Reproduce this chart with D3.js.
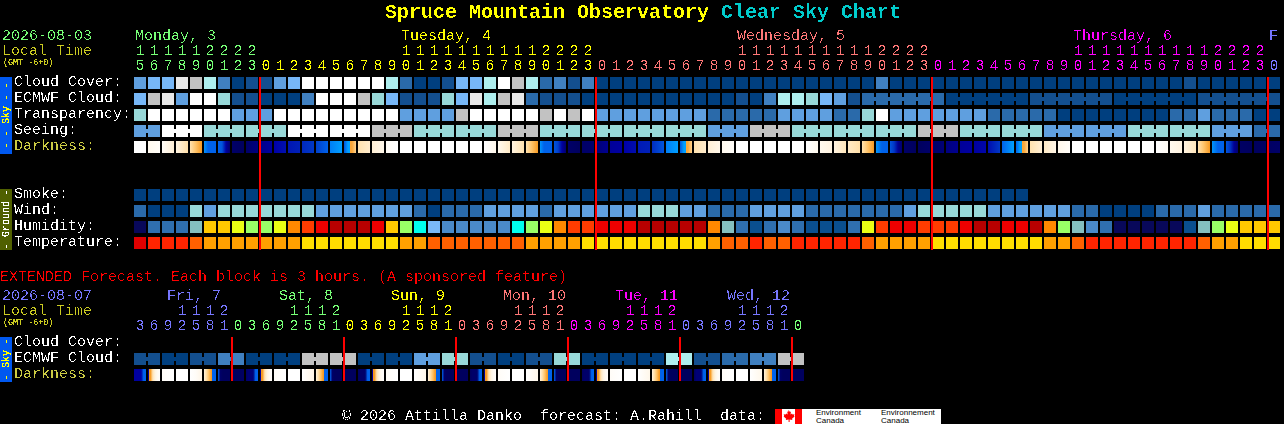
<!DOCTYPE html>
<html><head><meta charset="utf-8">
<style>
html,body{margin:0;padding:0;background:#000;overflow:hidden}
svg{display:block}
text{font-family:"Liberation Mono",monospace;font-size:15px;white-space:pre}
</style>
<script src="https://cdnjs.cloudflare.com/ajax/libs/d3/7.8.5/d3.min.js"></script>
</head><body><svg id="c" width="1284" height="424"></svg>
<script>
// ---------- DATA ----------
const hours=[15,16,17,18,19,20,21,22,23,0,1,2,3,4,5,6,7,8,9,10,11,12,13,14,15,16,17,18,19,20,21,22,23,0,1,2,3,4,5,6,7,8,9,10,11,12,13,14,15,16,17,18,19,20,21,22,23,0,1,2,3,4,5,6,7,8,9,10,11,12,13,14,15,16,17,18,19,20,21,22,23,0];
const hourDayIdx=[0,0,0,0,0,0,0,0,0,1,1,1,1,1,1,1,1,1,1,1,1,1,1,1,1,1,1,1,1,1,1,1,1,2,2,2,2,2,2,2,2,2,2,2,2,2,2,2,2,2,2,2,2,2,2,2,2,3,3,3,3,3,3,3,3,3,3,3,3,3,3,3,3,3,3,3,3,3,3,3,3,4];
const dayLabels=["Monday, 3","Tuesday, 4","Wednesday, 5","Thursday, 6","F"];
const dayStartCols=[0,19,43,67,81];
const dayColors=["#77ff77","#ffff00","#ff7777","#ff00ff","#7777ff"];
const midnightCols=[9,33,57,81];

const rowsSky=["Cloud Cover:","ECMWF Cloud:","Transparency:","Seeing:","Darkness:"];
const rowsGround=["Smoke:","Wind:","Humidity:","Temperature:"];
const rowsExt=["Cloud Cover:","ECMWF Cloud:","Darkness:"];

const cloudCover=[4,5,5,9,8,7,3,0,1,1,4,5,10,10,10,10,10,10,7,2,0,0,1,5,5,7,10,8,7,2,3,1,3,0,0,0,0,0,0,0,0,0,0,0,0,0,0,0,0,0,0,0,0,3,0,0,0,0,0,0,0,0,0,0,0,0,0,0,0,0,0,0,0,0,0,1,0,0,0,0,0,0];
const ecmwfCloud=[5,8,9,4,10,10,6,1,1,0,0,0,3,10,10,10,8,6,5,1,1,1,6,5,9,7,8,9,2,1,1,1,0,0,0,0,0,0,0,0,0,0,0,1,0,3,7,7,6,5,4,1,2,2,2,2,2,2,0,0,0,0,0,0,1,1,1,1,1,1,0,0,0,0,0,0,1,1,1,1,1,1];
const transparency=[6,10,10,10,10,10,10,4,4,4,10,10,10,10,10,10,10,10,10,4,4,4,4,8,10,10,10,10,10,8,10,8,10,4,4,4,4,4,4,4,4,2,2,2,2,2,4,4,4,4,2,2,6,10,4,4,4,4,4,4,4,2,2,2,2,2,0,0,0,0,0,0,0,0,2,2,4,2,2,2,0,0];
const seeing=[4,4,10,10,10,6,6,6,6,6,6,10,10,10,10,10,10,8,8,8,6,6,6,6,6,6,8,8,8,6,6,6,6,6,6,6,6,6,6,6,6,4,4,4,8,8,8,6,6,6,6,6,6,6,6,6,8,8,8,6,6,6,6,6,6,4,4,4,4,4,4,6,6,6,6,6,6,4,4,4,2,2];
const darkness=[[100,100],[92,97],[96,82],[86,70],[72,60,51],[49,44,44,44],[44,42,18,6],[5,3],[5,10],[12,18],[20,25],[27,30],[32,36],[38,44],[47,50],[42,50,54,66],[72,80],[82,90],[95,100],[100,100],[100,100],[100,100],[100,100],[100,100],[100,100],[100,90],[92,78],[85,72],[72,60,51],[49,44,44,44],[42,38,18,6],[5,3],[5,6],[8,14],[16,18],[20,24],[28,30],[33,42],[47,50],[42,50,54,66],[72,80],[82,90],[92,97],[100,100],[100,100],[100,100],[100,100],[100,100],[100,92],[92,85],[85,75],[78,70],[72,60,51],[49,44,44],[42,36,15,6],[5,3],[3,5],[5,8],[10,14],[16,18],[18,22],[24,36],[44,50],[44,50,54,66],[72,82],[78,88],[90,97],[100,100],[100,100],[100,100],[100,100],[100,100],[100,100],[100,95],[92,85],[85,75],[72,60,51],[49,44,44],[42,36,15,6],[4,3],[3,4],[4,5]];

const smoke=[0,0,0,0,0,0,0,0,0,0,0,0,0,0,0,0,0,0,0,0,0,0,0,0,0,0,0,0,0,0,0,0,0,0,0,0,0,0,0,0,0,0,0,0,0,0,0,0,0,0,0,0,0,0,0,0,0,0,0,0,0,0,0,0];
const wind=[2,0,0,0,6,4,6,6,6,6,6,6,6,4,4,4,4,4,4,4,2,0,2,2,2,4,4,4,4,2,4,4,4,4,4,4,6,6,6,4,4,2,2,2,4,4,4,4,2,2,2,2,2,2,2,4,6,6,6,6,6,4,4,4,4,4,4,2,2,0,0,0,0,2,2,2,4,2,2,2,2,2];
const humidity=[0,2,2,2,5,9,9,8,7,7,8,10,11,12,13,13,13,12,9,7,6,4,3,3,3,3,3,6,7,8,10,11,11,12,12,12,13,13,13,13,13,10,5,2,1,2,3,2,1,1,1,2,8,11,12,12,11,11,11,12,13,13,12,12,13,10,7,5,3,2,0,0,0,0,0,1,5,7,8,9,9,9];
const temperature=[0,1,1,1,2,3,3,3,3,3,3,3,4,4,4,4,4,4,4,3,3,2,2,2,2,2,2,2,3,3,3,3,4,4,4,4,4,4,4,4,4,3,2,2,1,2,2,1,1,1,1,1,2,3,3,3,3,4,4,4,4,4,4,4,4,3,3,2,1,1,1,1,1,1,1,1,2,3,3,4,4,4];

// Extended forecast
const extHours=[3,6,9,12,15,18,21,0,3,6,9,12,15,18,21,0,3,6,9,12,15,18,21,0,3,6,9,12,15,18,21,0,3,6,9,12,15,18,21,0,3,6,9,12,15,18,21,0];
const extDayIdx=[0,0,0,0,0,0,0,1,1,1,1,1,1,1,1,2,2,2,2,2,2,2,2,3,3,3,3,3,3,3,3,4,4,4,4,4,4,4,4,5,5,5,5,5,5,5,5,1];
const extDayLabels=["Fri, 7","Sat, 8","Sun, 9","Mon, 10","Tue, 11","Wed, 12"];
const extDayStartCols=[2,10,18,26,34,42];
const extDayColors=["#7777ff","#77ff77","#ffff00","#ff7777","#ff00ff","#7777ff"];
const extMidnightCols=[7,15,23,31,39,47];
const extEcmwf=[1,1,0,0,1,1,3,3,0,0,0,0,8,8,8,8,0,0,0,0,4,4,6,6,1,1,0,0,1,1,6,6,0,0,0,0,0,0,7,7,1,1,2,2,3,3,8,8];
const extDarkness=[[18,18,18,18,44,44],[16,51,74,86,94,98],[96,100],[100,100],[100,96,88],[84,70,60,51,44,44],[44,5,3,3,3,3],[3,4],[5,8,8,8,44,44],[16,51,74,86,94,98],[96,100],[100,100],[100,88],[84,70,60,51,44,44],[44,5,3,3,3,3],[3,3],[3,5,5,5,44,44],[16,51,74,86,94,98],[96,100],[100,100],[100,90],[84,70,60,51,44,44],[44,5,3,3,3,3],[3,3],[3,5,5,5,44,44],[16,51,74,86,94,98],[96,100],[100,100],[100,90],[84,70,60,51,44,44],[44,5,3,3,3,3],[3,3],[3,5,5,5,44,44],[16,51,74,86,94,98],[96,100],[100,100],[100,90],[84,70,60,51,44,44],[44,5,3,3,3,3],[3,3],[3,8,8,8,44,44],[16,51,74,86,94,98],[96,100],[100,100],[100,90],[84,70,60,51,44,44],[44,5,3,3,3,3],[3,3]];

// colour palettes
const skyPalette=["#003f7f","#134f8f","#2a6aaa","#4080c0","#5f9fdf","#77b7f7","#98d8d8","#aeeeee","#c2c2c2","#e8e8e8","#ffffff"];
const humidityPalette=["#08085a","#0a4f8f","#2f6faf","#4a8aca","#7ab8f8","#84bfbf","#00ffee","#99ff66","#eaff14","#ffc800","#ff8800","#ff3c00","#ee0000","#b80000"];
const temperaturePalette=["#e00000","#ff2400","#ff6000","#ffa000","#ffdd00"];
const darkDomain=[0,10,20,30,40,45,50,50.5,60,70,85,100];
const darkRange=["#000050","#00007f","#0000a8","#0020b8","#0048d0","#0068f0","#00a0ff","#f7981e","#ffc266","#ffdfa8","#fff3e0","#ffffff"];

// ---------- SCALES ----------
const svg=d3.select("#c");
const defs=svg.append("defs");
function pxFilter(id,table){
  defs.append("filter").attr("id",id).attr("filterUnits","userSpaceOnUse")
    .attr("x",0).attr("y",0).attr("width",1284).attr("height",424)
    .attr("color-interpolation-filters","sRGB")
    .append("feComponentTransfer").append("feFuncA").attr("type","discrete").attr("tableValues",table);
}
pxFilter("px","0 0 0 1 1");
pxFilter("pxs","0 0 1 1 1");

const x=d3.scaleBand().domain(d3.range(hours.length)).range([134,1280]).paddingInner(2/14);
const xe=d3.scaleBand().domain(d3.range(extHours.length)).range([134,804]).paddingInner(2/14);
const ySky=d3.scaleBand().domain(rowsSky).range([77,153]).paddingInner(.25);
const yGround=d3.scaleBand().domain(rowsGround).range([189,249]).paddingInner(.25);
const yExt=d3.scaleBand().domain(rowsExt).range([337,381]).paddingInner(.25);
const sky=d3.scaleOrdinal(d3.range(skyPalette.length),skyPalette);
const hum=d3.scaleOrdinal(d3.range(humidityPalette.length),humidityPalette);
const tmp=d3.scaleOrdinal(d3.range(temperaturePalette.length),temperaturePalette);
const dark=d3.scaleLinear().domain(darkDomain).range(darkRange).interpolate(d3.interpolateRgb);

const marks=svg.append("g").attr("shape-rendering","crispEdges");
const textG=svg.append("g").attr("filter","url(#px)");
const smallG=svg.append("g").attr("filter","url(#pxs)");

function row(vals,xs,y,color,block){
  const g=marks.append("g");
  g.selectAll("rect.c").data(vals).join("rect").attr("class","c")
    .attr("x",(d,i)=>xs(i)).attr("y",y).attr("width",xs.bandwidth()).attr("height",12)
    .attr("fill",d=>color(d));
  if(block){
    const links=d3.range(vals.length-1).filter(i=>block(i)!==null&&block(i)===block(i+1));
    g.selectAll("rect.l").data(links).join("rect").attr("class","l")
      .attr("x",i=>xs(i)+xs.bandwidth()).attr("y",y+4).attr("width",xs.step()-xs.bandwidth()).attr("height",4)
      .attr("fill",i=>color(vals[i]));
  }
}
function darkRow(vals,xs,y,pre){
  vals.forEach((s,i)=>{
    const gr=defs.append("linearGradient").attr("id",pre+i);
    s.forEach((v,k)=>{
      const off=k/(s.length-1);
      if(k>0&&(s[k-1]<=50)!==(v<=50)){
        const m=off-0.5/(s.length-1);
        gr.append("stop").attr("offset",m).attr("stop-color",dark(s[k-1]));
        gr.append("stop").attr("offset",m).attr("stop-color",dark(v));
      }
      gr.append("stop").attr("offset",off).attr("stop-color",dark(v));
    });
  });
  marks.append("g").selectAll("rect").data(vals).join("rect")
    .attr("x",(d,i)=>xs(i)).attr("y",y).attr("width",xs.bandwidth()).attr("height",12)
    .attr("fill",(d,i)=>`url(#${pre}${i})`);
}
const blockSeeing=i=>Math.floor((i+1)/3);
const blockEcmwf=i=>i<52?null:Math.floor((i-52)/6);
const blockExt=i=>Math.floor(i/2);

row(cloudCover,x,ySky("Cloud Cover:"),sky);
row(ecmwfCloud,x,ySky("ECMWF Cloud:"),sky,blockEcmwf);
row(transparency,x,ySky("Transparency:"),sky);
row(seeing,x,ySky("Seeing:"),sky,blockSeeing);
darkRow(darkness,x,ySky("Darkness:"),"d");
row(smoke,x,yGround("Smoke:"),sky);
row(wind,x,yGround("Wind:"),sky);
row(humidity,x,yGround("Humidity:"),hum);
row(temperature,x,yGround("Temperature:"),tmp);
row(extEcmwf,xe,yExt("ECMWF Cloud:"),sky,blockExt);
darkRow(extDarkness,xe,yExt("Darkness:"),"e");

// midnight lines
marks.append("g").selectAll("rect").data(midnightCols).join("rect")
  .attr("x",c=>x(c)-1).attr("y",77).attr("width",2).attr("height",173).attr("fill","#f00");
marks.append("g").selectAll("rect").data(extMidnightCols).join("rect")
  .attr("x",c=>xe(c)-1).attr("y",337).attr("width",2).attr("height",44).attr("fill","#f00");

// side strips
[[77,77,"#0058f0"],[189,61,"#506000"],[337,45,"#0058f0"]].forEach(([y,h,c])=>
  marks.append("rect").attr("x",0).attr("y",y).attr("width",12).attr("height",h).attr("fill",c));
function strip(cy,txt,col){
  smallG.append("text").attr("transform",`translate(9,${cy}) rotate(-90)`).attr("text-anchor","middle")
   .style("font-size","10px").attr("fill",col).text(txt);
}
strip(115,"- - Sky - -","#ffff00");
strip(219,"- Ground -","#ffffff");
strip(359,"- Sky -","#ffff00");

function t(xp,y,s,col,size,weight,grp){
  const e=(grp||textG).append("text").attr("x",xp).attr("y",y).attr("fill",col).text(s);
  if(size)e.style("font-size",size+"px");
  if(weight)e.style("font-weight",weight);
  return e;
}
// title
t(385,18,"Spruce Mountain Observatory","#ffff00",20,"bold");
t(721,18,"Clear Sky Chart","#00cccc",20,"bold");

// header 1
t(2,40,"2026-08-03","#77ff77");
t(2,55,"Local Time","#cccc22");
t(3,65,"(GMT -6+0)","#cccc22",8.4,null,smallG);
textG.append("g").selectAll("text").data(dayLabels).join("text")
  .attr("x",(d,i)=>x(dayStartCols[i])+1).attr("y",40).attr("fill",(d,i)=>dayColors[i]).text(d=>d);
const tens=h=>h>=10?Math.floor(h/10):"";
textG.append("g").selectAll("text").data(hours).join("text")
  .attr("text-anchor","middle").attr("x",(d,i)=>x(i)+6).attr("y",55)
  .attr("fill",(d,i)=>dayColors[hourDayIdx[i]]).text(tens);
textG.append("g").selectAll("text").data(hours).join("text")
  .attr("text-anchor","middle").attr("x",(d,i)=>x(i)+6).attr("y",70)
  .attr("fill",(d,i)=>dayColors[hourDayIdx[i]]).text(d=>d%10);

// row labels
const labelColor=l=>l==="Darkness:"?"#cccc44":"#ffffff";
[[rowsSky,ySky],[rowsGround,yGround],[rowsExt,yExt]].forEach(([rows,y])=>
  rows.forEach(l=>t(14,y(l)+9,l,labelColor(l))));

// extended header
t(0,281,"EXTENDED Forecast. Each block is 3 hours. (A sponsored feature)","#ff0000");
t(2,300,"2026-08-07","#7777ff");
t(2,315,"Local Time","#cccc22");
t(3,325,"(GMT -6+0)","#cccc22",8.4,null,smallG);
textG.append("g").selectAll("text").data(extDayLabels).join("text")
  .attr("x",(d,i)=>xe(extDayStartCols[i])+5).attr("y",300).attr("fill",(d,i)=>extDayColors[i]).text(d=>d);
textG.append("g").selectAll("text").data(extHours).join("text")
  .attr("text-anchor","middle").attr("x",(d,i)=>xe(i)+6).attr("y",315)
  .attr("fill",(d,i)=>extDayColors[extDayIdx[i]]).text(tens);
textG.append("g").selectAll("text").data(extHours).join("text")
  .attr("text-anchor","middle").attr("x",(d,i)=>xe(i)+6).attr("y",330)
  .attr("fill",(d,i)=>extDayColors[extDayIdx[i]]).text(d=>d%10);

// footer
t(342,419.5,"\u00a9 2026 Attilla Danko  forecast: A.Rahill  data:","#ffffff");
const logo=svg.append("g");
logo.append("rect").attr("x",775).attr("y",409).attr("width",166).attr("height",15).attr("fill","#fff");
logo.append("rect").attr("x",775).attr("y",409).attr("width",7).attr("height",15).attr("fill","#f00");
logo.append("rect").attr("x",795).attr("y",409).attr("width",7).attr("height",15).attr("fill","#f00");
logo.append("path").attr("fill","#f00").attr("d","M788.5 410l1.5 2 1-.5-.5 3 1.5-1 .5 1 2-.3-.5 1.8.6.6-2.6 2.2.4 1.2-2.8-.4v2.4h-1v-2.4l-2.8.4.4-1.2-2.6-2.2.6-.6-.5-1.8 2 .3.5-1 1.5 1-.5-3 1 .5z");
[[816,"Environment"],[881,"Environnement"]].forEach(([lx,s])=>{
  logo.append("text").attr("x",lx).attr("y",415).attr("fill","#000").style("font-size","8px").style("font-family","Liberation Sans").text(s);
  logo.append("text").attr("x",lx).attr("y",423).attr("fill","#000").style("font-size","8px").style("font-family","Liberation Sans").text("Canada");
});
</script></body></html>
